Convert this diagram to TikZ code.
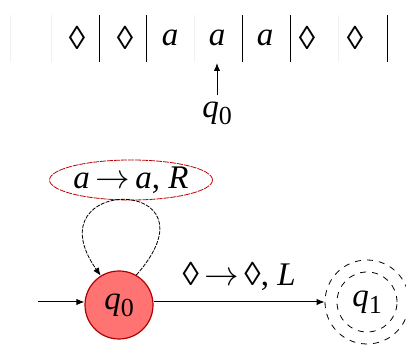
\documentclass[tikz,border=0pt]{standalone}
\usepackage{fontspec}
\setmainfont{Liberation Serif}
\usepackage{amssymb}
\usetikzlibrary{arrows.meta, shapes.geometric}
\newcommand{\blank}{\char"25CA}
\newcommand{\qstate}[1]{\textit{q}\raisebox{-0.45ex}{\fontsize{13}{14}\selectfont #1}}

\begin{document}
\begin{tikzpicture}[x=0.5pt, y=-0.5pt,
    font=\fontsize{16.5}{18}\selectfont,
    cellline/.style={black, line width=0.45pt},
    faintline/.style={gray!12, line width=0.4pt},
    arrowstyle/.style={-{Latex[length=4pt, width=3.2pt]}, line width=0.5pt},
    loopstyle/.style={-{Latex[length=4pt, width=3.2pt]}, line width=0.4pt, dash pattern=on 2pt off 0.6pt},
    label/.style={draw=red!75!black, line width=0.4pt, dash pattern=on 3pt off 0.5pt, ellipse, minimum width=81pt, minimum height=20pt, inner sep=0pt},
    start/.style={circle, draw=red!70!black, fill=red!55!white, line width=0.6pt, minimum size=34pt, inner sep=0pt},
    accept/.style={circle, draw, dashed, line width=0.4pt, minimum size=42pt, inner sep=0pt}]
  \useasboundingbox (0,0) rectangle (406,351);
  % tape
  \foreach \x in {10, 51, 194, 338}
    \draw[faintline] (\x,15) -- (\x,62);
  \foreach \x in {99, 146, 242, 290, 387}
    \draw[cellline] (\x,15) -- (\x,62);
  \node (c1) at (77,38) {\blank};
  \node (c2) at (125,38) {\blank};
  \node (c3) at (170,38) {\textit{a}};
  \node (c4) at (217,38) {\textit{a}};
  \node (c5) at (265,38) {\textit{a}};
  \node (c6) at (307,38) {\blank};
  \node (c7) at (355,38) {\blank};
  \coordinate (headtip) at (217,63);
  \node (head) at (217,113) {\qstate{0}};
  \draw[arrowstyle] (head.north) -- (headtip);
  % states
  \node[start] (q0) at (119,305) {\qstate{0}};
  \node[accept] (q1) at (367,302) {};
  \draw[dashed, line width=0.4pt] (q1.center) circle (15pt);
  \node at (q1.center) {\qstate{1}};
  \coordinate (init) at (38,302);
  \draw[arrowstyle] (init) -- (q0.west |- init);
  \draw[arrowstyle] (q0.east |- init) -- node[above=2pt] {\blank\,$\rightarrow$\,\blank, \textit{L}} (q1.west);
  % loop
  \node[label] (lbl) at (131,180) {\textit{a}\,$\rightarrow$\,\textit{a}, \textit{R}};
  \draw[loopstyle] (q0.60) .. controls (225,175) and (30,175) .. (q0.122);
\end{tikzpicture}
\end{document}
